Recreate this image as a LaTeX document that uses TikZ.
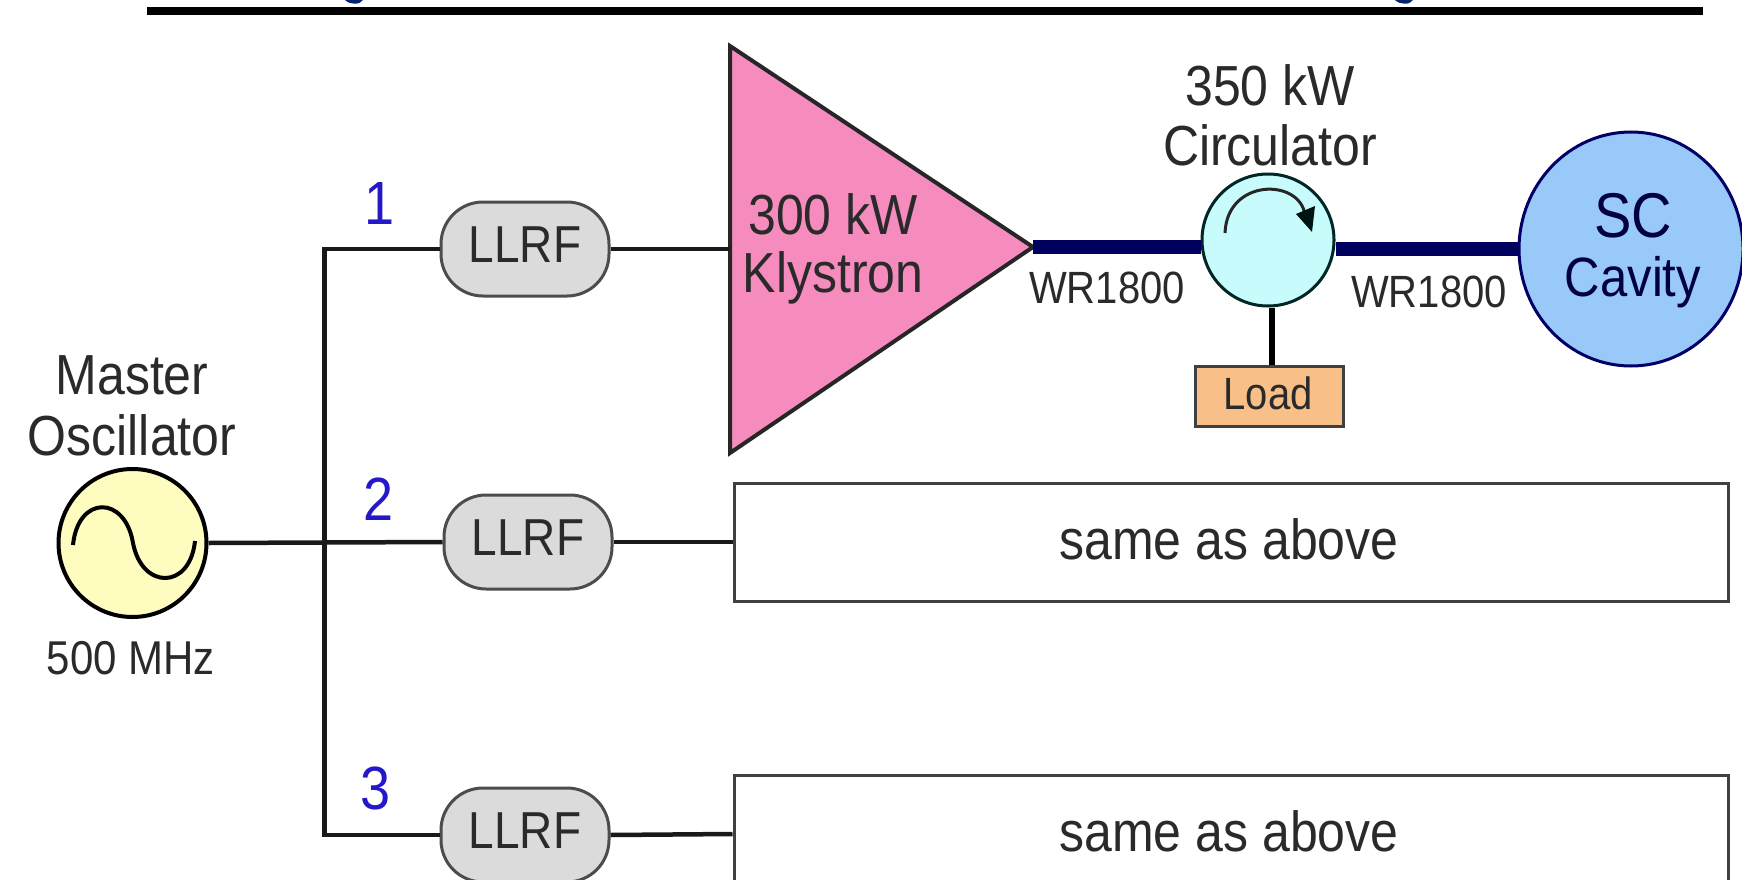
\documentclass[tikz,border=0pt]{standalone}
\usepackage{fontspec}
\usepackage{graphicx}
\usetikzlibrary{shapes.geometric}
\setmainfont{Liberation Sans}
\newcommand{\fz}[1]{\fontsize{#1}{#1}\selectfont}
\newcommand{\tl}[1]{\scalebox{1}[1.13]{#1}}
\definecolor{inkgray}{HTML}{2A2A2A}
\definecolor{navyline}{HTML}{00005E}
\definecolor{numblue}{HTML}{2418C8}
\definecolor{titleblue}{HTML}{06246E}
\tikzset{
  x=1pt,y=-1pt,
  lbl/.style={text=inkgray,inner sep=0pt,align=center},
  lbl50/.style={lbl,font=\fz{50}},
  lbl40/.style={lbl,font=\fz{42}},
  num/.style={text=numblue,inner sep=0pt,font=\fz{54}},
  llrf/.style={draw=black!70,line width=3pt,fill=black!14,rounded corners=42pt,minimum width=168pt,minimum height=94pt,inner sep=0pt},
  llrftext/.style={lbl,font=\fz{46}},
  samebox/.style={draw=black!75,line width=3pt,fill=white,minimum width=994pt,minimum height=118pt,inner sep=0pt},
  wire/.style={draw=black!90,line width=4.5pt},
  guide/.style={draw=navyline,line width=14pt},
}
\begin{document}
\begin{tikzpicture}
\useasboundingbox (0,0) rectangle (1742,880);
\clip (0,0) rectangle (1742,880);
\fill[white] (0,0) rectangle (1742,880);
% rule at the top, with the feet of the cut-off title
\fill[black] (147,7) rectangle (1703,15);
\fill[titleblue] (345,0) .. controls (350,5) and (360,5) .. (363,0) -- cycle;
\fill[titleblue] (1395,0) .. controls (1400,5) and (1410,5) .. (1413,0) -- cycle;
% connector corners
\coordinate (trunktop) at (324.5,249);
\coordinate (trunkbot) at (324.5,835);
\coordinate (ka) at (730,46);
\coordinate (kb) at (730,453);
\coordinate (kc) at (1033,247);
% oscillator
\node[circle,draw=black,line width=4pt,fill=yellow!25!white,minimum size=148pt,inner sep=0pt] (osc) at (132.5,543) {};
\draw[black,line width=4pt] (73,545) .. controls (78,495) and (125,495) .. (133,543) .. controls (142,590) and (190,590) .. (195,541);
\node[lbl50] (mo1) at (132,375) {\tl{Master}};
\node[lbl50] (mo2) at (132,435) {\tl{Oscillator}};
\node[lbl40] (mhz) at (131,658) {\tl{500 MHz}};
% LLRF
\node[llrf] (l1) at (525,249) {};
\node[llrf] (l2) at (528,542) {};
\node[llrf] (l3) at (525,835) {};
\node[llrftext] (lt1) at (525,245) {\tl{LLRF}};
\node[llrftext] (lt2) at (528,538) {\tl{LLRF}};
\node[llrftext] (lt3) at (525,831) {\tl{LLRF}};
\node[num] (n1) at (380,204) {\tl{1}};
\node[num] (n2) at (379,499) {\tl{2}};
\node[num] (n3) at (376,788) {\tl{3}};
% klystron
\filldraw[draw=black!85,line width=4pt,fill={rgb,255:red,246;green,140;blue,190},line join=miter] (ka) -- (kc) -- (kb) -- cycle;
\node[lbl50] (k1) at (833,214) {\tl{300 kW}};
\node[lbl50] (k2) at (833,278) {\tl{Klystron}};
% boxes
\node[samebox] (b2) at (1231,542) {};
\node[samebox] (b3) at (1231,834) {};
\node[lbl50] (bt2) at (1229,539) {\tl{same as above}};
\node[lbl50] (bt3) at (1229,831) {\tl{same as above}};
% circulator, cavity, load
\node[circle,draw=black!70!teal,line width=3pt,fill={rgb,255:red,200;green,252;blue,252},minimum size=132pt,inner sep=0pt] (circ) at (1268,240) {};
\node[ellipse,draw=black!60!blue,line width=3pt,fill={rgb,255:red,153;green,201;blue,248},minimum width=224pt,minimum height=234pt,inner sep=0pt] (cav) at (1631,249) {};
\node[rectangle,draw=black!75,line width=3pt,fill={rgb,255:red,248;green,192;blue,136},minimum width=148pt,minimum height=60pt,inner sep=0pt] (load) at (1269,396) {};
\node[lbl,font=\fz{40}] (lt) at (1268,393) {\tl{Load}};
\node[lbl50] (c1) at (1270,85) {\tl{350 kW}};
\node[lbl50] (c2) at (1270,145) {\tl{Circulator}};
\node[lbl,font=\fz{40}] (w1) at (1107,288) {\tl{WR1800}};
\node[lbl,font=\fz{40}] (w2) at (1429,292) {\tl{WR1800}};
\node[lbl,font=\fz{56},text=navyline!70!black] (sc) at (1633,216) {\tl{SC}};
\node[lbl,font=\fz{49},text=navyline!70!black] (cv) at (1633,282) {\tl{Cavity}};
% circulator arrow
\draw[black!85,line width=3pt] (1225,233) .. controls (1227,178) and (1300,178) .. (1305,215);
\fill[black!85!teal] (1312,232) -- (1296,214) -- (1315,206) -- cycle;
% connectors
\draw[wire] (osc.east) -- (l2.west);
\draw[wire] (l1.west) -- (trunktop) -- (trunkbot) -- (l3.west);
\draw[wire] (l1.east) -- (l1.east -| ka);
\draw[wire] (l2.east) -- (b2.west);
\draw[wire] (l3.east) -- (b3.west);
\draw[guide] (kc) -- (kc -| circ.west);
\draw[guide] (circ.east |- cav.west) -- (cav.west);
\draw[black,line width=6pt] (load.north -| 1272,0) -- (circ.south -| 1272,0);
\end{tikzpicture}
\end{document}
